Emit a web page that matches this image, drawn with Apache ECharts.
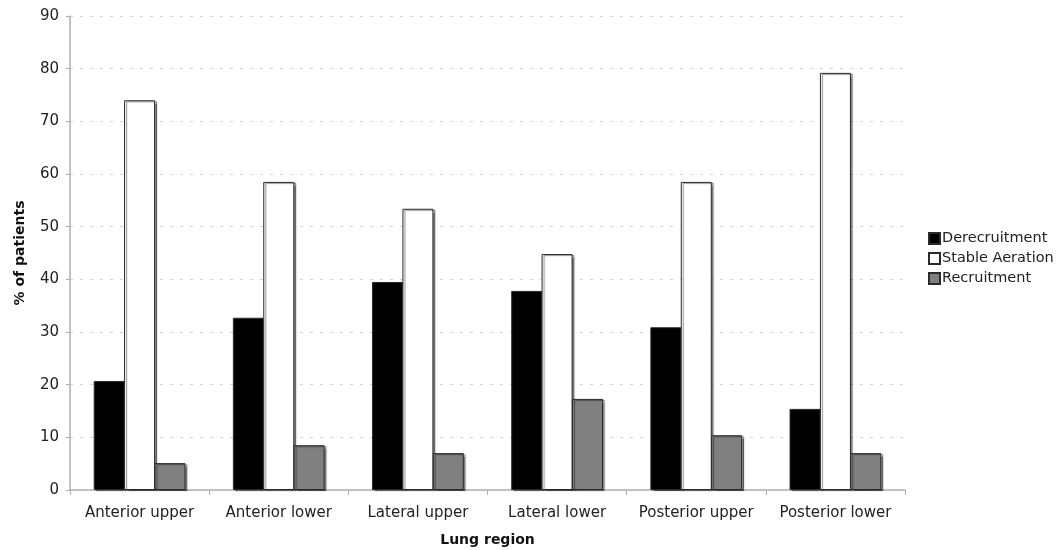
<!DOCTYPE html>
<html>
<head>
<meta charset="utf-8">
<script src="https://cdn.jsdelivr.net/npm/echarts@6/dist/echarts.min.js"></script>
<style>
* { margin: 0; padding: 0; }
#chart { width: 1056px; height: 550px; background: #fff; }
</style>
</head>
<body>
<div id="chart"></div>
<script>
const regions = ['Anterior upper', 'Anterior lower', 'Lateral upper', 'Lateral lower', 'Posterior upper', 'Posterior lower']
const derecruitment = [20.7, 32.7, 39.5, 37.8, 30.9, 15.4]
const stableAeration = [74.0, 58.5, 53.4, 44.8, 58.5, 79.2]
const recruitment = [5.1, 8.5, 7.0, 17.3, 10.4, 7.0]

const chart = echarts.init(document.getElementById('chart'), null, { renderer: 'canvas' })

const font = 'DejaVu Sans, Verdana, sans-serif'
const barStyle = (fill) => ({
  color: fill,
  borderColor: '#2a2a2a',
  borderWidth: 1,
  shadowColor: 'rgba(0,0,0,0.45)',
  shadowOffsetX: 2,
  shadowOffsetY: 1,
  shadowBlur: 1
})

chart.setOption({
  animation: false,
  textStyle: { fontFamily: font },
  grid: { left: 70, right: 151, top: 16, bottom: 60, containLabel: false, outerBoundsMode: 'none' },
  legend: {
    orient: 'vertical',
    left: 923,
    top: 226,
    icon: 'rect',
    itemWidth: 11,
    itemHeight: 11,
    itemGap: 5,
    textStyle: { fontSize: 14.5, color: '#222', fontFamily: font, padding: [0, 0, 0, -3] },
    data: ['Derecruitment', 'Stable Aeration', 'Recruitment']
  },
  xAxis: {
    type: 'category',
    data: regions,
    name: 'Lung region',
    nameLocation: 'middle',
    nameGap: 43,
    nameTextStyle: { fontWeight: 'bold', fontSize: 14, color: '#111', fontFamily: font },
    axisLine: { lineStyle: { color: '#b0b0b0', width: 1.5 } },
    axisTick: { show: true, interval: 0, length: 5, lineStyle: { color: '#b0b0b0' } },
    axisLabel: { interval: 0, hideOverlap: false, fontSize: 15, color: '#222', margin: 16 }
  },
  yAxis: {
    type: 'value',
    min: 0,
    max: 90,
    interval: 10,
    name: '% of patients',
    nameLocation: 'middle',
    nameGap: 43,
    nameTextStyle: { fontWeight: 'bold', fontSize: 14, color: '#111', fontFamily: font },
    axisLine: { show: true, lineStyle: { color: '#b0b0b0', width: 1.5 } },
    axisTick: { show: true, length: 4, lineStyle: { color: '#b0b0b0' } },
    axisLabel: { fontSize: 15, color: '#222', margin: 11 },
    splitLine: { lineStyle: { color: '#d4d4d4', type: [3, 7] } }
  },
  series: [
    {
      name: 'Derecruitment',
      type: 'bar',
      data: derecruitment,
      barWidth: 31,
      barGap: '-2%',
      itemStyle: barStyle('#000000')
    },
    {
      name: 'Stable Aeration',
      type: 'bar',
      data: stableAeration,
      barWidth: 31,
      barGap: '-2%',
      itemStyle: barStyle('#ffffff')
    },
    {
      name: 'Recruitment',
      type: 'bar',
      data: recruitment,
      barWidth: 31,
      barGap: '-2%',
      itemStyle: barStyle('#808080')
    }
  ]
})
</script>
</body>
</html>
